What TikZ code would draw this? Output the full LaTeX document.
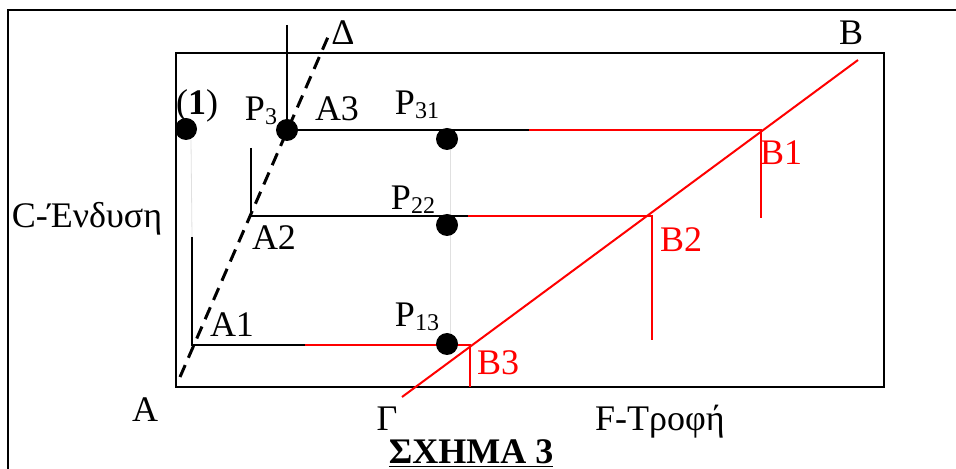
\documentclass[tikz,border=0pt]{standalone}
\usepackage{fontspec}
\setmainfont{Liberation Serif}
\newcommand{\Psub}[1]{P{\fontsize{12}{14}\selectfont\raisebox{-0.35ex}{#1}}}
\begin{document}
\begin{tikzpicture}[x=0.5pt,y=-0.5pt,
  lbl/.style={inner sep=0pt, anchor=base, font=\fontsize{18}{20}\selectfont},
  rlbl/.style={lbl, text=red},
  blk/.style={line width=1pt},
  rd/.style={red, line width=1pt},
  dot/.style={circle, fill=black, inner sep=0pt, minimum size=11pt},
  guide/.style={black!12, line width=0.4pt},
  dline/.style={line width=1.5pt, dash pattern=on 6.5pt off 4pt}]
\useasboundingbox (0,0) rectangle (956,469);
% frames
\coordinate (O1) at (8,469);
\coordinate (O2) at (8,10);
\coordinate (O3) at (956,10);
\draw[line width=0.75pt] (O1) -- (O2) -- (O3);
\coordinate (R1) at (176,53);
\coordinate (R2) at (884,387);
\draw[blk] (R1) rectangle (R2);
% dashed Delta line
\coordinate (D0) at (180,377);
\coordinate (D1) at (328,37);
\draw[dline] (D0) -- (D1);
% corner points
\coordinate (P3) at (287,130);
\coordinate (T3) at (287,25);
\coordinate (K3) at (529,130);
\coordinate (B1p) at (761,130);
\coordinate (B1b) at (761,218);
\coordinate (A2t) at (251,148);
\coordinate (A2c) at (251,216);
\coordinate (K2) at (468,216);
\coordinate (B2p) at (652,216);
\coordinate (B2b) at (652,340);
\coordinate (A1t) at (192,237);
\coordinate (A1c) at (192,345);
\coordinate (K1) at (305,345);
\coordinate (B3p) at (470,345);
\coordinate (B3b) at (470,387);
\coordinate (G) at (402,397);
\coordinate (Bt) at (858,60);
% faint guides
\coordinate (g1a) at (191,140);
\coordinate (g2a) at (450,150);
\coordinate (g2b) at (450,333);
\draw[guide] (g1a) -- (A1t);
\draw[guide] (g2a) -- (g2b);
% black lines
\draw[blk] (T3) -- (P3) -- (K3);
\draw[blk] (A2t) -- (A2c) -- (K2);
\draw[blk] (A1t) -- (A1c) -- (K1);
% red lines
\draw[rd] (K3) -- (B1p) -- (B1b);
\draw[rd] (K2) -- (B2p) -- (B2b);
\draw[rd] (K1) -- (B3p) -- (B3b);
\draw[rd] (G) -- (Bt);
% dots
\node[dot] (d1) at (186,129) {};
\node[dot] (dP3) at (287,130) {};
\node[dot] (dP31) at (447,139) {};
\node[dot] (dP22) at (447,225) {};
\node[dot] (dP13) at (447,344) {};
% labels
\node[lbl] (lDelta) at (343,45) {Δ};
\node[lbl] (lB) at (851,45) {B};
\node[lbl] (l1) at (197,115) {(\textbf{1})};
\node[lbl] (lP3) at (261,121) {\Psub{3}};
\node[lbl] (lA3) at (337,121) {A3};
\node[lbl] (lP31) at (417,115) {\Psub{31}};
\node[lbl] (lP22) at (413,210) {\Psub{22}};
\node[lbl] (lC) at (87,228) {C-Ένδυση};
\node[lbl] (lA2) at (274,250) {A2};
\node[lbl] (lA1) at (232,337) {A1};
\node[lbl] (lP13) at (417,327) {\Psub{13}};
\node[lbl] (lA) at (145,421) {A};
\node[lbl] (lG) at (387,430) {Γ};
\node[lbl] (lF) at (660,430) {F-Τροφή};
\node[rlbl] (lB1) at (781,165) {B1};
\node[rlbl] (lB2) at (681,252) {B2};
\node[rlbl] (lB3) at (498,374) {B3};
\node[lbl] (lS) at (471,463) {\underline{\textbf{ΣΧΗΜΑ 3}}};
\end{tikzpicture}
\end{document}
